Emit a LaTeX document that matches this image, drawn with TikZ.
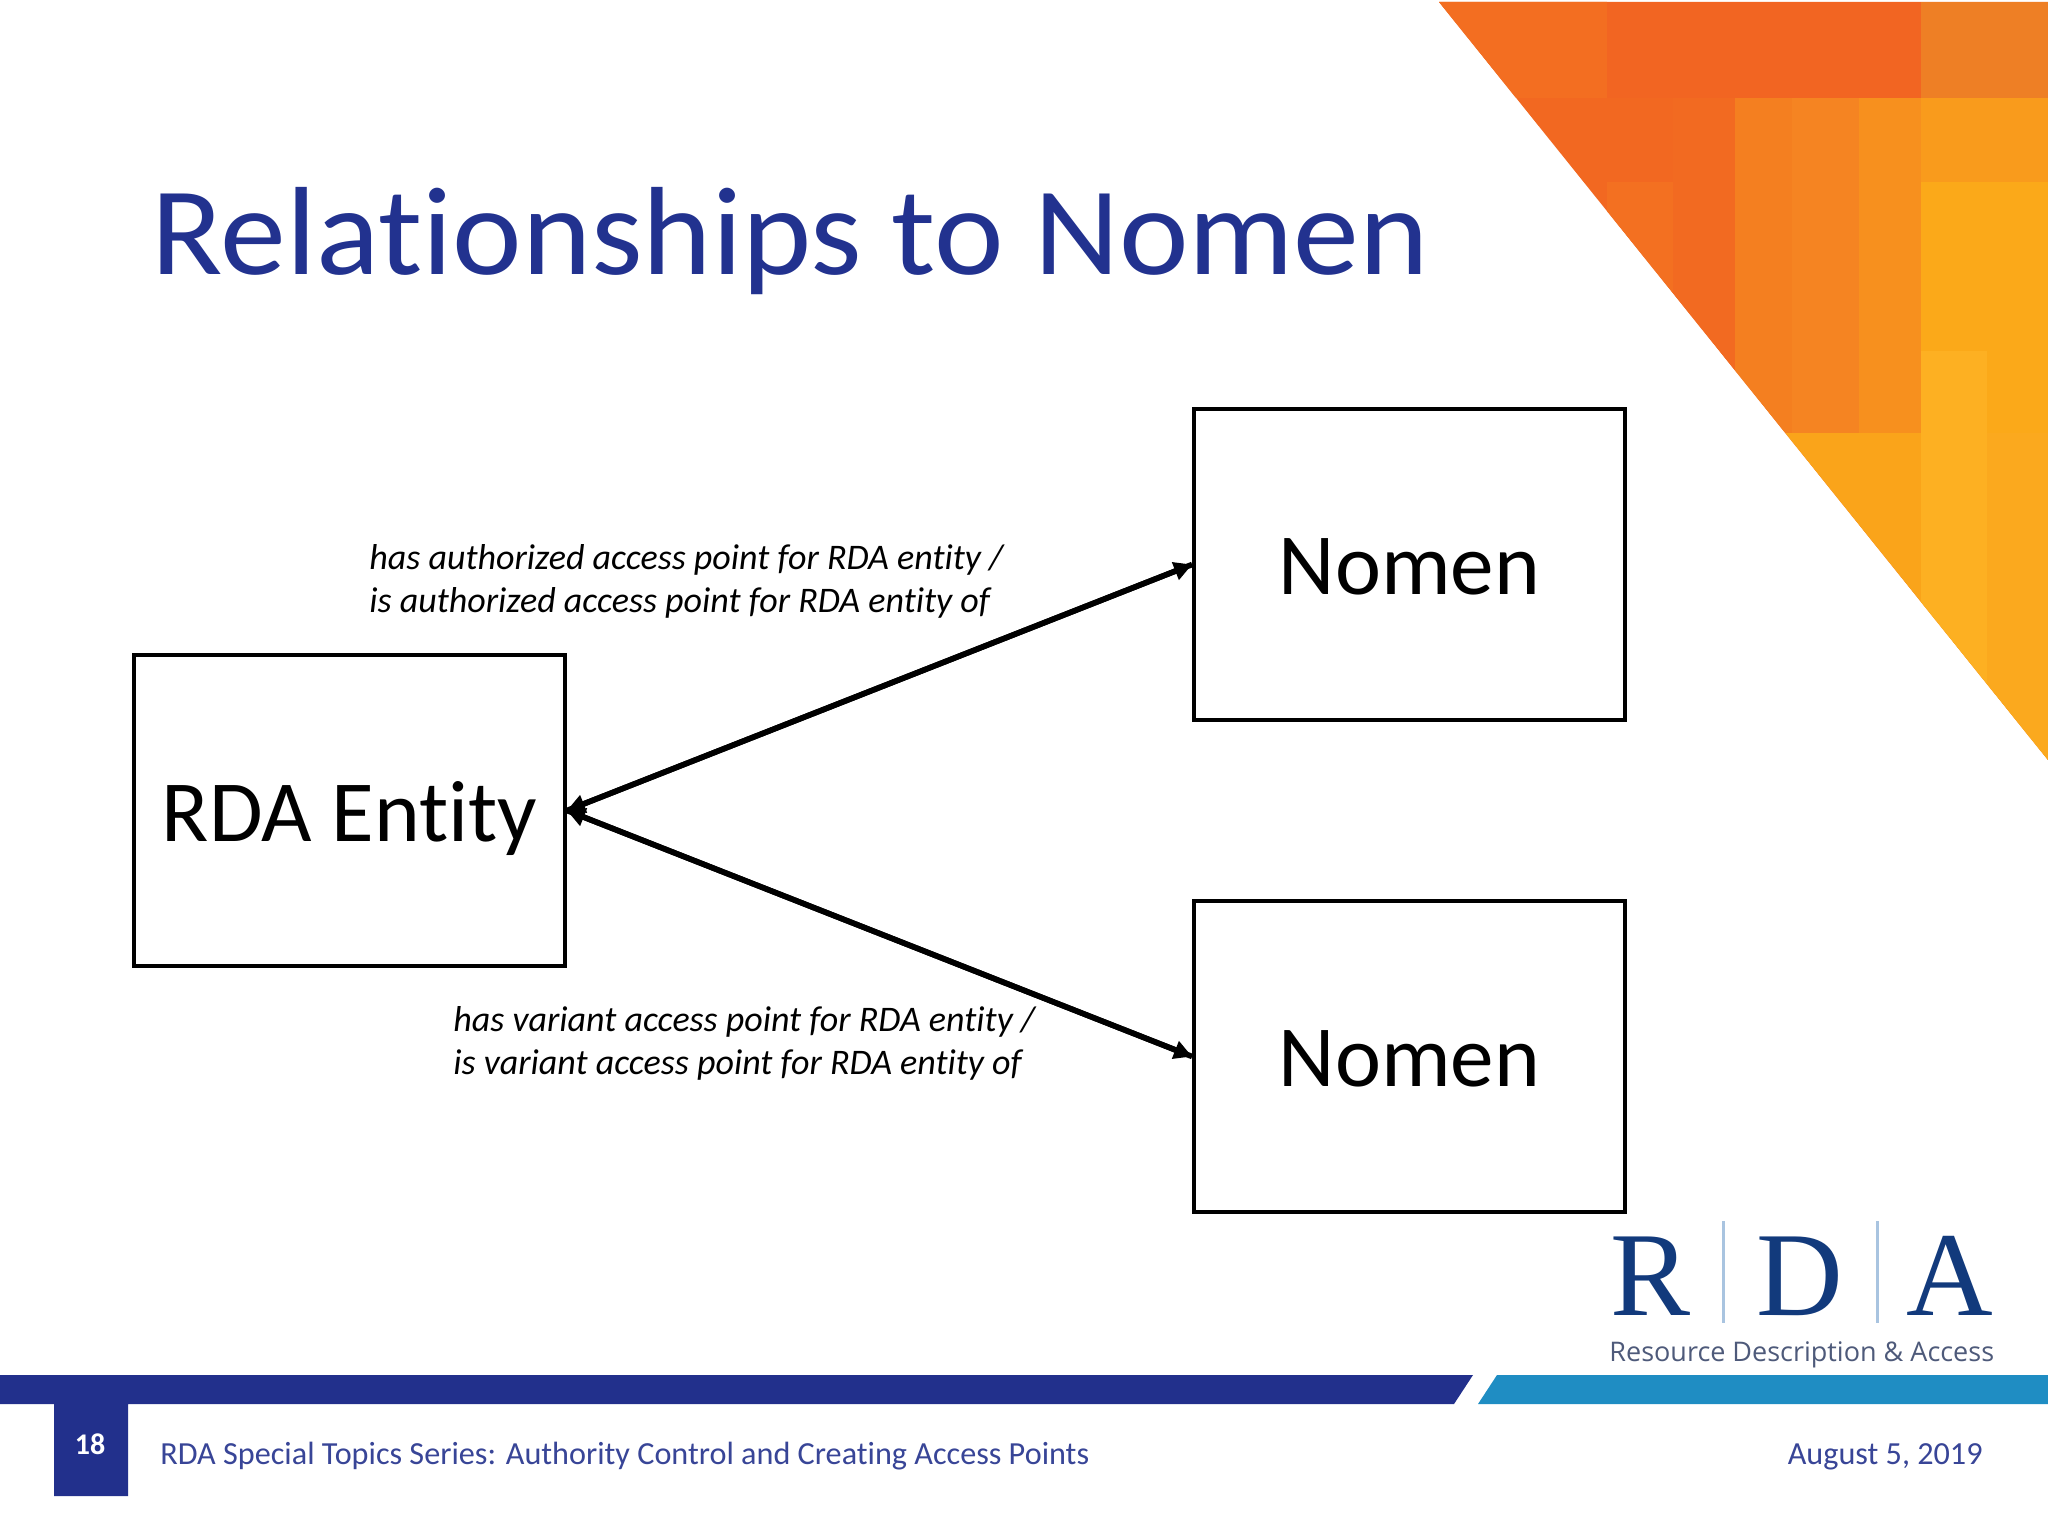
\documentclass[tikz,border=0pt]{standalone}
\usepackage{fontspec}
\setmainfont[Ligatures=NoCommon]{Carlito}
\newfontfamily\titlefont[Ligatures=NoCommon,FakeStretch=1.05]{Carlito}
\newfontfamily\logoserif{Liberation Serif}
\newfontfamily\logosans{Open Sans}
\usetikzlibrary{arrows.meta}
\definecolor{navy}{HTML}{22308C}
\definecolor{titleblue}{HTML}{22328F}
\definecolor{skyband}{HTML}{1F8DC3}
\definecolor{logoblue}{HTML}{123A7C}
\definecolor{logorule}{HTML}{A9C4E0}
\definecolor{logogrey}{HTML}{4E5A7A}
\newcommand{\fsz}[1]{\fontsize{#1pt}{#1pt}\selectfont}
\tikzset{
  x=0.5pt,y=-0.5pt,
  box/.style={draw=black,line width=1.9pt,fill=white,inner sep=0pt,minimum width=215.5pt,minimum height=155.5pt,text depth=0pt,font=\fsz{43.6}},
  rel/.style={line width=2.8pt,black,-{Triangle[length=9pt,width=9pt]}},
  lbl/.style={anchor=base west,inner sep=0pt,font=\fsz{18}\itshape,text=black},
  foot/.style={inner sep=0pt,font=\fsz{16.1},text=navy!90!white},
  tile/.style={draw=none},
  logoL/.style={anchor=base,inner sep=0pt,text=logoblue,font=\logoserif\fsz{60}},
}
\begin{document}
\begin{tikzpicture}
\useasboundingbox (0,0) rectangle (2048,1536);
\fill[white] (0,0) rectangle (2048,1536);
% corner mosaic
\begin{scope}
\clip (1439,2) -- (2048,2) -- (2048,760) -- cycle;
\fill[tile,fill={rgb,255:red,242;green,104;blue,33}] (1430,0) rectangle (2048,800);
\fill[tile,fill={rgb,255:red,243;green,110;blue,33}] (1430,0) rectangle (1607,98);
\fill[tile,fill={rgb,255:red,242;green,101;blue,34}] (1607,2) rectangle (1921,98);
\fill[tile,fill={rgb,255:red,238;green,127;blue,37}] (1921,2) rectangle (2048,98);
\fill[tile,fill={rgb,255:red,243;green,112;blue,33}] (1607,182) rectangle (1673,433);
\fill[tile,fill={rgb,255:red,242;green,106;blue,33}] (1673,98) rectangle (1735,433);
\fill[tile,fill={rgb,255:red,244;green,127;blue,32}] (1735,98) rectangle (1792,433);
\fill[tile,fill={rgb,255:red,245;green,132;blue,34}] (1792,98) rectangle (1859,433);
\fill[tile,fill={rgb,255:red,247;green,144;blue,30}] (1859,98) rectangle (1921,433);
\fill[tile,fill={rgb,255:red,249;green,155;blue,28}] (1921,98) rectangle (2048,182);
\fill[tile,fill={rgb,255:red,251;green,169;blue,25}] (1921,182) rectangle (2048,800);
\fill[tile,fill={rgb,255:red,253;green,176;blue,34}] (1921,351) rectangle (1987,800);
\fill[tile,fill={rgb,255:red,250;green,164;blue,26}] (1780,433) rectangle (1921,800);
\fill[tile,fill={rgb,255:red,251;green,169;blue,30}] (1987,433) rectangle (2048,800);
\end{scope}
% title
\node[anchor=base west,inner sep=0pt,text=titleblue,font=\titlefont\fsz{62.75}] (title) at (151,274) {Relationships to Nomen};
% boxes
\node[box,text height=30.5pt] (rda) at (349.5,810.5) {RDA Entity};
\node[box,text height=30pt] (nomA) at (1409.5,564.5) {Nomen};
\node[box,text height=30pt] (nomB) at (1409.5,1056.5) {Nomen};
% connectors
\draw[rel] (rda.east) -- (nomA.west);
\draw[rel] (nomA.west) -- (rda.east);
\draw[rel] (rda.east) -- (nomB.west);
\draw[rel] (nomB.west) -- (rda.east);
% labels
\node[lbl] (la) at (369,569.5) {has authorized access point for RDA entity /};
\node[lbl] (lb) at (369,612.5) {is authorized access point for RDA entity of};
\node[lbl] (lc) at (453,1031.5) {has variant access point for RDA entity /};
\node[lbl] (ld) at (453,1074.5) {is variant access point for RDA entity of};
% logo
\node[logoL] (lr) at (1650,1315) {R};
\node[logoL] (ld2) at (1799.5,1315) {D};
\node[logoL] (la2) at (1949.5,1315) {A};
\fill[logorule] (1722,1221) rectangle (1724.5,1323);
\fill[logorule] (1876,1221) rectangle (1878.5,1323);
\node[anchor=base west,inner sep=0pt,text=logogrey,font=\logosans\fsz{13.5}] (tag) at (1609,1361) {Resource Description \& Access};
% footer
\fill[navy] (0,1375) -- (1473,1375) -- (1454,1404) -- (128,1404) -- (128,1496) -- (54,1496) -- (54,1404) -- (0,1404) -- cycle;
\fill[skyband] (1497,1375) -- (2048,1375) -- (2048,1404) -- (1478,1404) -- cycle;
\node[anchor=base,inner sep=0pt,text=white,font=\fsz{15}\bfseries] (num) at (90,1454) {18};
\node[foot,anchor=base west] (series) at (160,1464) {RDA Special Topics Series: Authority Control and Creating Access Points};
\node[foot,anchor=base east] (date) at (1983,1464) {August 5, 2019};
\end{tikzpicture}
\end{document}
